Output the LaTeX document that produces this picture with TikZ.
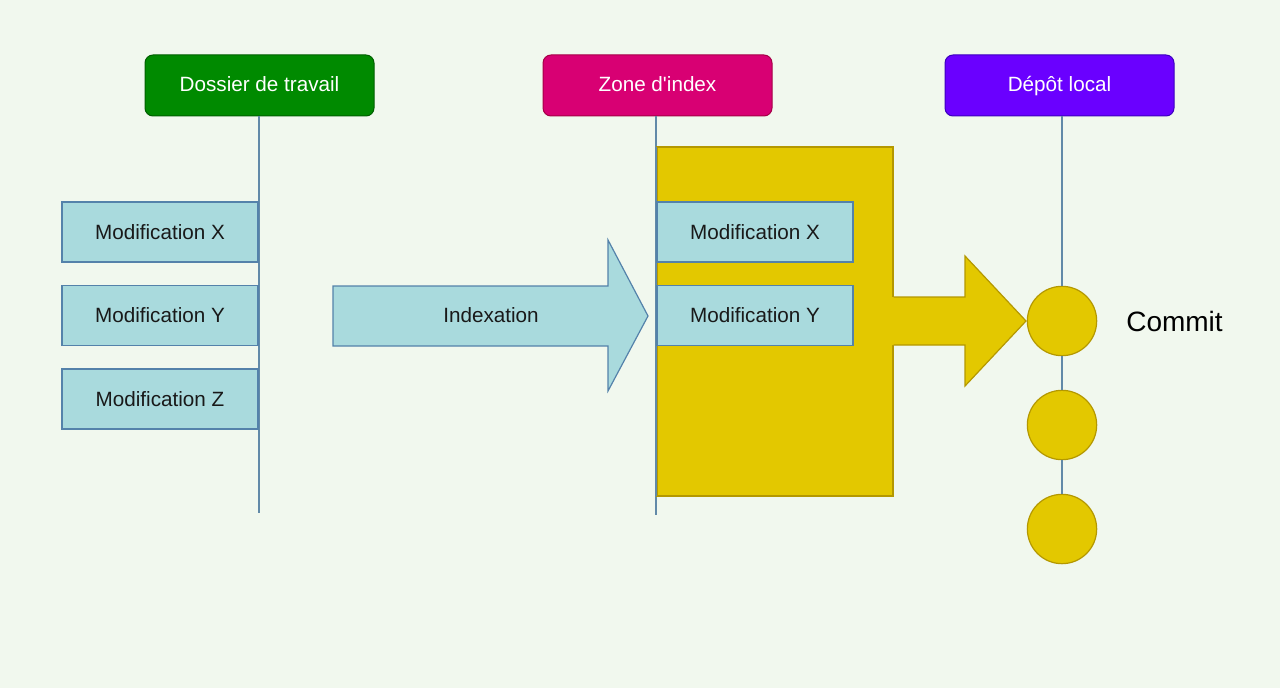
\documentclass[tikz,border=0pt]{standalone}
\usepackage{fontspec}
\setmainfont{Liberation Sans}
\usepackage{tikz}

\begin{document}
\begin{tikzpicture}[x=0.75pt,y=0.75pt,yscale=-1,xscale=1,
  entete/.style={rounded corners=6pt, line width=0.75, text=white, minimum width=171.75pt, minimum height=45.75pt, inner sep=0.75pt, text height=11.5pt, text depth=3pt, font=\fontsize{15.5}{18}\selectfont},
  modif/.style={draw={rgb, 255:red, 84; green, 130; blue, 170 }, fill={rgb, 255:red, 169; green, 218; blue, 221 }, line width=0.9, minimum width=147pt, minimum height=45pt, inner sep=0.75pt, font=\fontsize{15.5}{18}\selectfont, text={rgb, 255:red, 25; green, 25; blue, 25 }},
  commit/.style={circle, draw={rgb, 255:red, 180; green, 152; blue, 0 }, fill={rgb, 255:red, 227; green, 200; blue, 0 }, line width=0.9, minimum size=52pt, inner sep=0pt},
  axe/.style={color={rgb, 255:red, 98; green, 138; blue, 168 }, line width=0.9}]

%Background
\fill [color={rgb, 255:red, 241; green, 248; blue, 238 }] (0,0) rectangle (1280,688);
\useasboundingbox (0,0) rectangle (1280,688);

% Text Node (headers)
\node [entete, draw={rgb, 255:red, 0; green, 95; blue, 0 }, fill={rgb, 255:red, 0; green, 138; blue, 0 }] (dossier) at (259.5,85.5) {Dossier de travail};
\node [entete, draw={rgb, 255:red, 165; green, 0; blue, 70 }, fill={rgb, 255:red, 216; green, 0; blue, 115 }] (index) at (657.5,85.5) {Zone d\textquotesingle index};
\node [entete, draw={rgb, 255:red, 60; green, 0; blue, 190 }, fill={rgb, 255:red, 106; green, 0; blue, 255 }] (depot) at (1059.5,85.5) {Dépôt local};

%Straight Lines (axes)
\coordinate (dossierFin) at (259,513);
\coordinate (indexFin) at (656,515);
\draw [axe] (dossier.south -| dossierFin) -- (dossierFin);
\draw [axe] (index.south -| indexFin) -- (indexFin);

%Shape: Rectangle (zone d'index)
\draw [draw={rgb, 255:red, 180; green, 152; blue, 0 }, fill={rgb, 255:red, 227; green, 200; blue, 0 }, line width=0.9] (657,147) rectangle (893,496);
\draw [axe] (656,147) -- (656,496);

% Text Node (working directory)
\node [modif] (wX) at (160,232) {Modification X};
\node [modif] (wY) at (160,315.5) {Modification Y};
\node [modif] (wZ) at (160,399) {Modification Z};

% Text Node (staging)
\node [modif] (sX) at (755,232) {Modification X};
\node [modif] (sY) at (755,315.5) {Modification Y};

%Shape: Right Arrow (indexation)
\draw [draw={rgb, 255:red, 84; green, 130; blue, 170 }, fill={rgb, 255:red, 169; green, 218; blue, 221 }, line width=0.9] (333,286) -- (608,286) -- (608,240) -- (648,316) -- (608,391) -- (608,346) -- (333,346) -- cycle;
\node [font=\fontsize{15.5}{18}\selectfont, text={rgb, 255:red, 25; green, 25; blue, 25 }] (indexation) at (491,315) {Indexation};

%Shape: Right Arrow (commit)
\fill [color={rgb, 255:red, 227; green, 200; blue, 0 }] (892,297) -- (965,297) -- (965,256) -- (1026,321) -- (965,386) -- (965,345) -- (892,345) -- cycle;
\draw [draw={rgb, 255:red, 180; green, 152; blue, 0 }, line width=0.9] (893.5,297) -- (965,297) -- (965,256) -- (1026,321) -- (965,386) -- (965,345) -- (893.5,345);

%Shape: Circle (commits)
\node [commit] (c1) at (1062,321) {};
\node [commit] (c2) at (1062,425) {};
\node [commit] (c3) at (1062,529) {};
\draw [axe] (depot.south -| c1) -- (c1);
\draw [axe] (c1) -- (c2);
\draw [axe] (c2) -- (c3);

% Text Node
\node [anchor=west, inner sep=0.75pt, font=\fontsize{21}{25}\selectfont] (commitTexte) at (1125,321) {Commit};

\end{tikzpicture}
\end{document}
